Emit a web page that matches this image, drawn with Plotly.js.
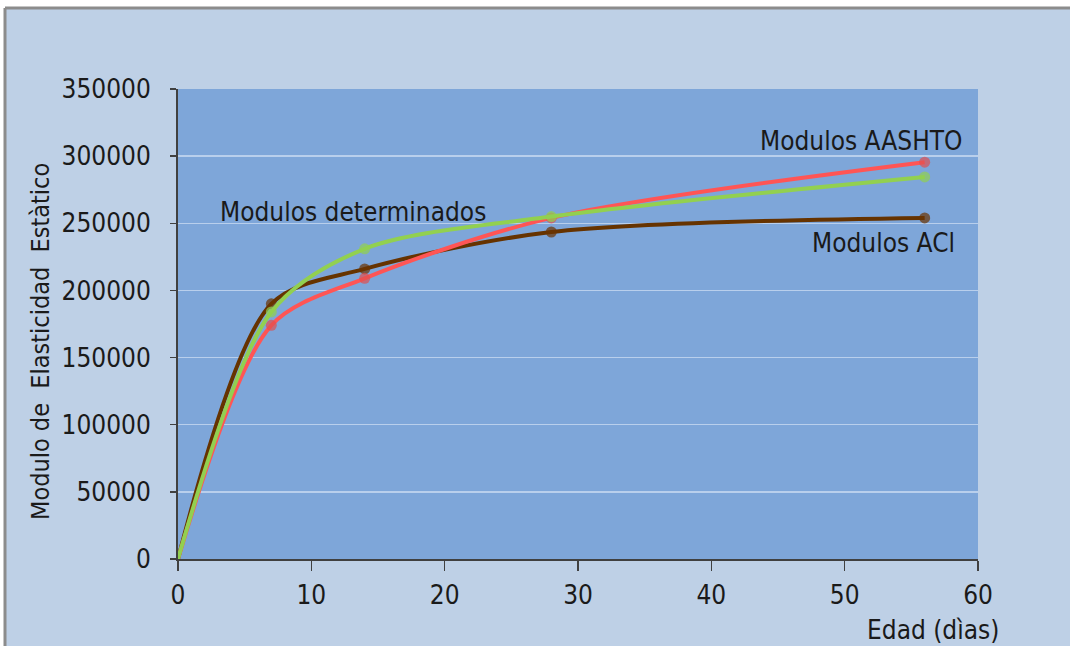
<!DOCTYPE html>
<html>
<head>
<meta charset="utf-8">
<script src="https://cdn.plot.ly/plotly-3.0.1.min.js"></script>
<style>
  html, body { margin: 0; padding: 0; background: #ffffff; }
  #chart { width: 1070px; height: 646px; }
</style>
</head>
<body>
<div id="chart"></div>
<script>
// Edad del concreto (días)
const edad = [0, 7, 14, 28, 56];

// Módulo de elasticidad estático por método
const modulosDeterminados = [0, 184000, 231000, 255000, 284500];
const modulosAASHTO = [0, 174000, 209000, 254000, 295500];
const modulosACI = [0, 190000, 216000, 243500, 254000];

const xTicks = [0, 10, 20, 30, 40, 50, 60];
const yTicks = [0, 50000, 100000, 150000, 200000, 250000, 300000, 350000];

const FONT = '"DejaVu Sans Condensed", "DejaVu Sans", sans-serif';
const TXT = '#1a1a1a';
const markerSizes = edad.map(function (d) { return d === 0 ? 0 : 11; });

function serie(nombre, y, lineColor, markerColor) {
  return {
    type: 'scatter',
    mode: 'lines+markers',
    name: nombre,
    x: edad,
    y: y,
    line: { color: lineColor, width: 4, shape: 'spline', smoothing: 0.85 },
    marker: { color: markerColor, size: markerSizes, line: { width: 0 } },
    cliponaxis: false,
    hoverinfo: 'x+y'
  };
}

const traces = [
  serie('Modulos ACl', modulosACI, '#663300', '#6b3300'),
  serie('Modulos AASHTO', modulosAASHTO, '#ff5555', '#e05050'),
  serie('Modulos determinados', modulosDeterminados, '#92d050', '#92d050')
];

// Marco exterior: franja blanca arriba/izquierda y borde gris
const px = function (p) { return (p - 178) / 800; };
const py = function (p) { return (559 - p) / 470; };

const layout = {
  width: 1070,
  height: 646,
  margin: { l: 178, r: 92, t: 89, b: 87 },
  paper_bgcolor: '#bed0e6',
  plot_bgcolor: '#7ea6d9',
  showlegend: false,
  font: { family: FONT, color: TXT, size: 26 },
  xaxis: {
    range: [0, 60],
    tickvals: xTicks,
    ticktext: xTicks.map(String),
    showgrid: false,
    zeroline: false,
    showline: true,
    linecolor: '#404040',
    linewidth: 2,
    ticks: 'outside',
    ticklen: 10,
    tickwidth: 1.5,
    tickcolor: '#404040',
    ticklabelstandoff: 2,
    tickfont: { family: FONT, size: 26, color: TXT },
    fixedrange: true
  },
  yaxis: {
    range: [0, 350000],
    tickvals: yTicks,
    ticktext: yTicks.map(String),
    showgrid: true,
    gridcolor: 'rgba(225,235,248,0.6)',
    gridwidth: 1.5,
    zeroline: false,
    showline: true,
    linecolor: '#404040',
    linewidth: 2,
    ticks: 'outside',
    ticklen: 6,
    tickwidth: 1.5,
    tickcolor: '#404040',
    ticklabelstandoff: 14,
    tickfont: { family: FONT, size: 26, color: TXT },
    fixedrange: true
  },
  shapes: [
    {
      type: 'rect', xref: 'paper', yref: 'paper', layer: 'below',
      x0: px(-10), x1: px(1080), y0: py(8), y1: py(-10),
      fillcolor: '#ffffff', line: { width: 0 }
    },
    {
      type: 'rect', xref: 'paper', yref: 'paper', layer: 'below',
      x0: px(-10), x1: px(5), y0: py(660), y1: py(8),
      fillcolor: '#ffffff', line: { width: 0 }
    },
    {
      type: 'line', xref: 'paper', yref: 'paper',
      x0: px(5), x1: px(1080), y0: py(8), y1: py(8),
      line: { color: '#8c8c8c', width: 3 }
    },
    {
      type: 'line', xref: 'paper', yref: 'paper',
      x0: px(5), x1: px(5), y0: py(660), y1: py(8),
      line: { color: '#8c8c8c', width: 3 }
    }
  ],
  annotations: [
    {
      text: 'Modulo de  Elasticidad  Estàtico', xref: 'paper', yref: 'paper',
      x: px(40), y: py(342), xanchor: 'center', yanchor: 'middle', textangle: -90,
      showarrow: false, font: { family: FONT, size: 25, color: TXT }
    },
    {
      text: 'Edad (dìas)', xref: 'paper', yref: 'paper',
      x: px(1001), y: py(630), xanchor: 'right', yanchor: 'middle',
      showarrow: false, font: { family: FONT, size: 26, color: TXT }
    },
    {
      text: 'Modulos determinados', x: 3, y: 258500,
      xanchor: 'left', yanchor: 'middle', showarrow: false,
      font: { family: FONT, size: 26, color: TXT }
    },
    {
      text: 'Modulos AASHTO', x: 43.5, y: 311500,
      xanchor: 'left', yanchor: 'middle', showarrow: false,
      font: { family: FONT, size: 26, color: TXT }
    },
    {
      text: 'Modulos ACl', x: 47.4, y: 235500,
      xanchor: 'left', yanchor: 'middle', showarrow: false,
      font: { family: FONT, size: 26, color: TXT }
    }
  ]
};

Plotly.newPlot('chart', traces, layout, { displayModeBar: false, staticPlot: true });
</script>
</body>
</html>
